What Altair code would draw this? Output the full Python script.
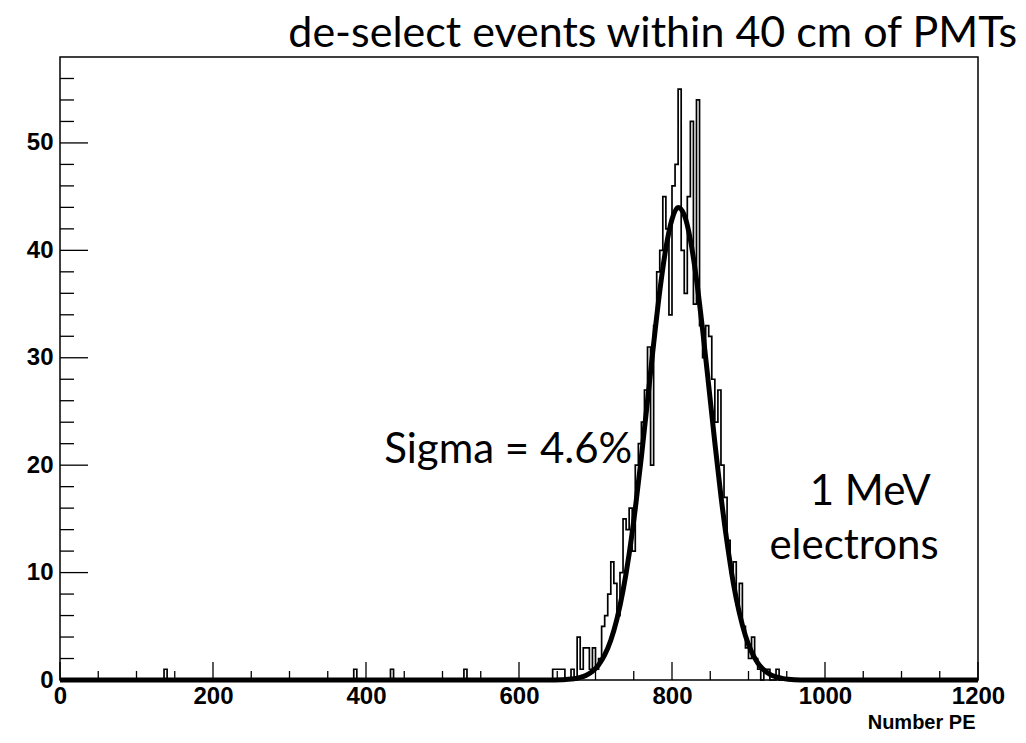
import altair as alt
import pandas as pd

# ---- data ----
bin_width = 4
bin_left = [136, 384, 432, 528,
            644, 648, 652, 656, 668, 676, 680, 684, 688, 692, 696, 700, 704, 708, 712, 716,
            720, 724, 728, 732, 736, 740, 744, 748, 752, 756, 760, 764, 768, 772, 776, 780,
            784, 788, 792, 796, 800, 804, 808, 812, 816, 820, 824, 828, 832, 836, 840, 844,
            848, 852, 856, 860, 864, 868, 872, 876, 880, 884, 888, 892, 896, 900, 904, 908,
            912, 920, 924, 936]
bin_count = [1, 1, 1, 1,
             1, 1, 1, 1, 1, 4, 1, 3, 3, 1, 3, 1, 2, 5, 6, 8,
             11, 9, 6, 10, 15, 14, 16, 12, 20, 22, 24, 27, 31, 20, 33, 38,
             40, 45, 42, 34, 46, 48, 55, 40, 36, 45, 52, 35, 54, 33, 30, 33,
             32, 28, 24, 27, 20, 17, 13, 10, 11, 7, 9, 5, 3, 2, 4, 2,
             1, 1, 1, 1]

fit_x = [0, 640, 656, 664, 672, 680, 688, 696, 704, 712, 720, 728, 736, 744, 752, 760,
         768, 776, 784, 792, 800, 808, 816, 824, 832, 840, 848, 856, 864, 872, 880, 888,
         896, 904, 912, 920, 928, 936, 944, 952, 968, 1200]
fit_y = [0, 0.0, 0.03, 0.06, 0.12, 0.24, 0.45, 0.81, 1.4, 2.33, 3.7, 5.66, 8.33, 11.75, 15.94, 20.78,
         26.0, 31.3, 36.2, 40.2, 42.9, 44.0, 43.3, 41.0, 37.3, 32.6, 27.4, 22.1, 17.1, 12.8, 9.1, 6.26,
         4.13, 2.63, 1.6, 0.94, 0.53, 0.28, 0.15, 0.07, 0.01, 0]

y_major = [0, 10, 20, 30, 40, 50]
y_minor = [2, 4, 6, 8, 12, 14, 16, 18, 22, 24, 26, 28, 32, 34, 36, 38, 42, 44, 46, 48, 52, 54, 56]
x_major = [0, 200, 400, 600, 800, 1000, 1200]
x_minor = [50, 100, 150, 250, 300, 350, 450, 500, 550, 650, 700, 750, 850, 900, 950,
           1050, 1100, 1150]

title_text = "de-select events within 40 cm of PMTs"
x_title = "Number PE"

# ---- layout ----
W, H = 918, 623
XMAX, YMAX = 1200, 58.0

counts = dict(zip(bin_left, bin_count))
edges = list(range(0, XMAX, bin_width))
hist_df = pd.DataFrame({"x": edges + [XMAX],
                        "y": [counts.get(e, 0) for e in edges] + [0]})
fit_df = pd.DataFrame({"x": fit_x, "y": fit_y})

xs = alt.Scale(domain=[0, XMAX], nice=False, zero=False)
ys = alt.Scale(domain=[0, YMAX], nice=False, zero=False)

axis_font = "Liberation Sans"
TXT = 42

hist = alt.Chart(hist_df).mark_line(interpolate="step-after", color="black", strokeWidth=1.7).encode(
    x=alt.X("x:Q", scale=xs, axis=alt.Axis(values=x_major, ticks=False, domain=False, grid=False,
                                           labelFont=axis_font, labelFontWeight="bold", labelFontSize=24,
                                           labelColor="black", labelPadding=4, labelFlush=False,
                                           labelOverlap=False, format="d",
                                           title=x_title, titleFont=axis_font, titleFontWeight="bold",
                                           titleFontSize=20, titleColor="black", titleAnchor="end",
                                           titleAlign="right", titleX=W - 3, titleY=42,
                                           titleBaseline="middle")),
    y=alt.Y("y:Q", scale=ys, axis=alt.Axis(values=y_major, ticks=False, domain=False, grid=False,
                                           labelFont=axis_font, labelFontWeight="bold", labelFontSize=24,
                                           labelColor="black", labelPadding=7, labelFlush=False,
                                           labelOverlap=False, title=None, format="d")),
)

fit = alt.Chart(fit_df).mark_line(color="black", strokeWidth=5, interpolate="monotone").encode(
    x=alt.X("x:Q", scale=xs), y=alt.Y("y:Q", scale=ys))

ymaj = alt.Chart(pd.DataFrame({"y": y_major})).mark_rule(color="black", strokeWidth=1.3).encode(
    y=alt.Y("y:Q", scale=ys), x=alt.value(0), x2=alt.value(28))
ymin = alt.Chart(pd.DataFrame({"y": y_minor})).mark_rule(color="black", strokeWidth=1.3).encode(
    y=alt.Y("y:Q", scale=ys), x=alt.value(0), x2=alt.value(14))
xmaj = alt.Chart(pd.DataFrame({"x": x_major})).mark_rule(color="black", strokeWidth=1.3).encode(
    x=alt.X("x:Q", scale=xs), y=alt.value(H), y2=alt.value(H - 18))
xmin = alt.Chart(pd.DataFrame({"x": x_minor})).mark_rule(color="black", strokeWidth=1.3).encode(
    x=alt.X("x:Q", scale=xs), y=alt.value(H), y2=alt.value(H - 9))

ann_df = pd.DataFrame({"x": [748], "y": [20.2], "t": ["Sigma = 4.6%"]})
sigma_txt = alt.Chart(ann_df).mark_text(align="right", baseline="alphabetic", font="Lato",
                                        fontSize=TXT, color="black").encode(
    x=alt.X("x:Q", scale=xs), y=alt.Y("y:Q", scale=ys), text="t:N")

lab_df = pd.DataFrame({"x": [1059, 1038], "y": [16.3, 11.3], "t": ["1 MeV", "electrons"]})
lab_txt = alt.Chart(lab_df).mark_text(align="center", baseline="alphabetic", font="Lato",
                                      fontSize=TXT, color="black").encode(
    x=alt.X("x:Q", scale=xs), y=alt.Y("y:Q", scale=ys), text="t:N")

chart = alt.layer(hist, fit, ymaj, ymin, xmaj, xmin, sigma_txt, lab_txt).properties(
    width=W, height=H,
    title=alt.Title(title_text, font="Lato", fontSize=43, fontWeight="normal", anchor="start",
                    dx=262, offset=1, color="black"),
    autosize=alt.AutoSizeParams(type="none"),
    padding={"left": 60, "top": 57, "right": 48, "bottom": 63},
    background="white",
).configure_view(stroke="black", strokeWidth=1.5)

chart.save("out.html", embed_options={"renderer": "svg", "actions": False})
